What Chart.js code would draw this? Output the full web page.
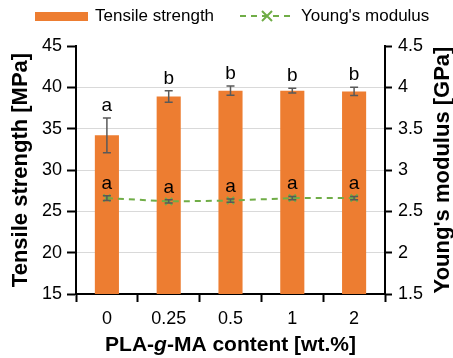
<!DOCTYPE html>
<html>
<head>
<meta charset="utf-8">
<script src="https://cdn.jsdelivr.net/npm/chart.js@4"></script>
<style>
  html, body { margin: 0; padding: 0; background: #fff; }
  #wrap { width: 453px; height: 358px; }
</style>
</head>
<body>
<div id="wrap"><canvas id="TensileChart"></canvas></div>
<script>
// data
const categories = ['0', '0.25', '0.5', '1', '2'];
const tensile = [34.2, 38.9, 39.6, 39.6, 39.5];
const tensileErr = [2.1, 0.7, 0.55, 0.3, 0.5];
const tensileLetters = ['a', 'b', 'b', 'b', 'b'];
const modulus = [2.66, 2.62, 2.63, 2.66, 2.66];
const modulusErr = [0.03, 0.02, 0.02, 0.02, 0.02];
const modulusLetters = ['a', 'a', 'a', 'a', 'a'];

const ORANGE = '#ED7D31';
const GREEN = '#70AD47';
const FONT = '"Liberation Sans", Arial, sans-serif';

// error bars + significance letters
const errorBars = {
  id: 'errorBars',
  afterDatasetsDraw(chart) {
    const ctx = chart.ctx;
    const sets = [
      { meta: chart.getDatasetMeta(0), vals: tensile, errs: tensileErr, letters: tensileLetters, scale: chart.scales.y, gap: 7 },
      { meta: chart.getDatasetMeta(1), vals: modulus, errs: modulusErr, letters: modulusLetters, scale: chart.scales.y1, gap: 7 },
    ];
    ctx.save();
    sets.forEach(s => {
      s.meta.data.forEach((el, i) => {
        const x = el.x;
        const top = s.scale.getPixelForValue(s.vals[i] + s.errs[i]);
        const bot = s.scale.getPixelForValue(s.vals[i] - s.errs[i]);
        ctx.strokeStyle = '#595959';
        ctx.lineWidth = 1.5;
        ctx.beginPath();
        ctx.moveTo(x, top); ctx.lineTo(x, bot);
        ctx.moveTo(x - 4, top); ctx.lineTo(x + 4, top);
        ctx.moveTo(x - 4, bot); ctx.lineTo(x + 4, bot);
        ctx.stroke();
        ctx.fillStyle = '#000';
        ctx.font = '19px ' + FONT;
        ctx.textAlign = 'center';
        ctx.textBaseline = 'alphabetic';
        ctx.fillText(s.letters[i], x, top - s.gap);
      });
    });
    ctx.restore();
  }
};

// legend, right-axis title and x-axis title (italic g)
const extras = {
  id: 'extras',
  afterDraw(chart) {
    const ctx = chart.ctx;
    const ds = chart.data.datasets;
    const ca = chart.chartArea;
    ctx.save();
    // legend
    ctx.font = '17px ' + FONT;
    ctx.textBaseline = 'middle';
    ctx.textAlign = 'left';
    ctx.fillStyle = ORANGE;
    ctx.fillRect(35, 12, 53, 9);
    ctx.fillStyle = '#000';
    ctx.fillText(ds[0].label, 95, 16);
    ctx.strokeStyle = GREEN;
    ctx.lineWidth = 2;
    ctx.setLineDash([6, 5]);
    ctx.beginPath();
    ctx.moveTo(240, 16); ctx.lineTo(291, 16);
    ctx.stroke();
    ctx.setLineDash([]);
    ctx.beginPath();
    ctx.moveTo(262, 11); ctx.lineTo(272, 21);
    ctx.moveTo(272, 11); ctx.lineTo(262, 21);
    ctx.stroke();
    ctx.fillStyle = '#000';
    ctx.fillText(ds[1].label, 301, 16);

    // right title, reads bottom to top
    ctx.save();
    ctx.translate(443, (ca.top + ca.bottom) / 2);
    ctx.rotate(-Math.PI / 2);
    ctx.font = 'bold 22px ' + FONT;
    ctx.textAlign = 'center';
    ctx.textBaseline = 'middle';
    ctx.fillText(ds[1].label + ' [GPa]', 0, 0);
    ctx.restore();

    // x title
    const parts = [
      { t: 'PLA-', f: 'bold 21px ' + FONT },
      { t: 'g', f: 'italic bold 21px ' + FONT },
      { t: '-MA content [wt.%]', f: 'bold 21px ' + FONT },
    ];
    let total = 0;
    parts.forEach(p => { ctx.font = p.f; p.w = ctx.measureText(p.t).width; total += p.w; });
    let x = (ca.left + ca.right) / 2 - total / 2;
    ctx.textAlign = 'left';
    ctx.textBaseline = 'alphabetic';
    parts.forEach(p => { ctx.font = p.f; ctx.fillText(p.t, x, 351); x += p.w; });
    ctx.restore();
  }
};

new Chart(document.getElementById('TensileChart'), {
  data: {
    labels: categories,
    datasets: [
      {
        type: 'bar',
        label: 'Tensile strength',
        data: tensile,
        backgroundColor: ORANGE,
        barPercentage: 0.39,
        categoryPercentage: 1,
        yAxisID: 'y',
        order: 1,
      },
      {
        type: 'line',
        label: "Young's modulus",
        data: modulus,
        borderColor: GREEN,
        borderWidth: 2,
        borderDash: [6, 5],
        pointStyle: 'crossRot',
        pointRadius: 5,
        pointBorderWidth: 2,
        pointBorderColor: GREEN,
        fill: false,
        tension: 0,
        yAxisID: 'y1',
        order: 0,
      },
    ],
  },
  options: {
    responsive: true,
    maintainAspectRatio: false,
    animation: false,
    layout: { padding: { top: 46, left: 0, right: 0, bottom: 0 } },
    plugins: { legend: { display: false }, tooltip: { enabled: false } },
    scales: {
      x: {
        offset: true,
        grid: { offset: true, drawOnChartArea: false, tickLength: 8, tickColor: '#000', tickWidth: 2 },
        border: { color: '#000', width: 2 },
        ticks: { color: '#000', font: { family: FONT, size: 18 }, padding: 6 },
        afterFit: s => { s.height = 64; },
      },
      y: {
        position: 'left',
        min: 15, max: 45,
        ticks: { stepSize: 5, color: '#000', font: { family: FONT, size: 18 }, padding: 5 },
        grid: {
          color: c => (c.tick && c.tick.value === 45 ? 'rgba(0,0,0,0)' : '#D9D9D9'),
          lineWidth: 1,
          tickLength: 9, tickColor: '#000', tickWidth: 2,
        },
        border: { color: '#000', width: 2 },
        title: {
          display: true, text: 'Tensile strength [MPa]', color: '#000',
          font: { family: FONT, size: 22, weight: 'bold', lineHeight: 1 }, padding: { top: 10 },
        },
        afterFit: s => { s.width = 76; },
      },
      y1: {
        position: 'right',
        min: 1.5, max: 4.5,
        ticks: {
          stepSize: 0.5, color: '#000', font: { family: FONT, size: 18 }, padding: 6,
          callback: v => String(Math.round(v * 10) / 10),
        },
        grid: { drawOnChartArea: false, tickLength: 7, tickColor: '#000', tickWidth: 2 },
        border: { color: '#000', width: 2 },
        afterFit: s => { s.width = 68; },
      },
    },
  },
  plugins: [errorBars, extras],
});
</script>
</body>
</html>
